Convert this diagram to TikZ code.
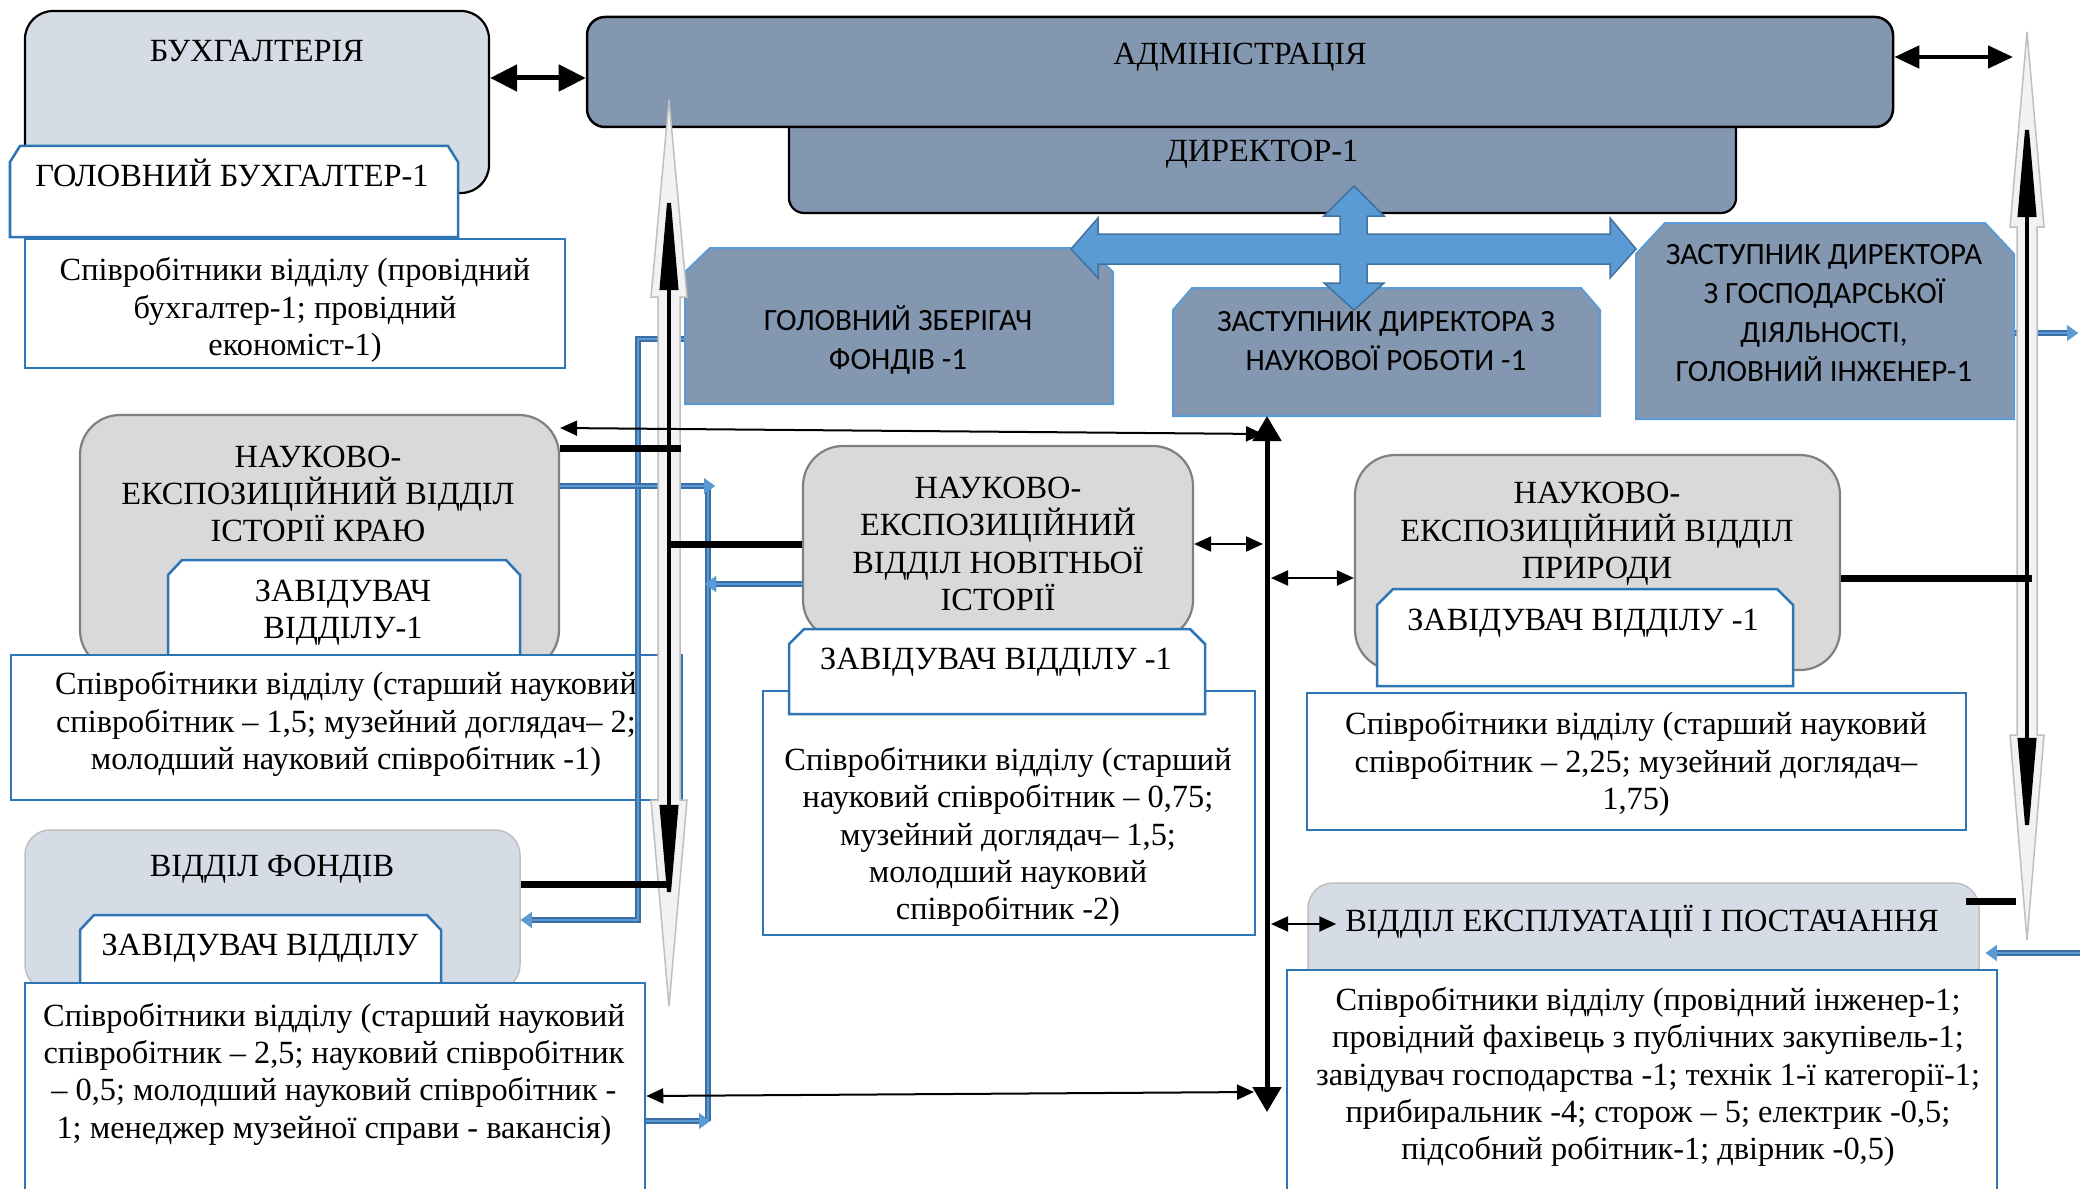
\documentclass[tikz,border=0pt]{standalone}
\usepackage{fontspec}
\setmainfont{Liberation Serif}
\newfontfamily\calib{Carlito}
\usetikzlibrary{arrows.meta,fit,calc}
\definecolor{slate}{HTML}{8497B0}
\definecolor{paleblue}{HTML}{D6DCE5}
\definecolor{grayfill}{HTML}{D9D9D9}
\definecolor{grayline}{HTML}{808080}
\definecolor{boxblue}{HTML}{2E75B6}
\definecolor{lightblue}{HTML}{5B9BD5}
\definecolor{crossedge}{HTML}{41719C}
\definecolor{conndark}{HTML}{3A6EA5}
\definecolor{outfill}{HTML}{F2F2F2}
\definecolor{outedge}{HTML}{BFBFBF}
\newcommand\snippath[7]{\path[#1] (#2,#5) -- (#2,{#3+#7}) -- ({#2+#6},#3) -- ({#4-#6},#3) -- (#4,{#3+#7}) -- (#4,#5) -- cycle;}
\begin{document}
\begin{tikzpicture}[x=0.01cm,y=-0.01cm,
  tm/.style={font=\fontsize{9.2}{10.6}\selectfont, align=center, inner sep=0pt},
  cb/.style={font=\calib\fontsize{8.8}{10.9}\selectfont, align=center, inner sep=0pt},
  area/.style={inner sep=0pt, fit={#1}},
  slatebox/.style={fill=slate, draw=black, line width=0.025cm, inner sep=0pt},
  palebox/.style={fill=paleblue, draw=black, line width=0.022cm, inner sep=0pt},
  graybox/.style={fill=grayfill, draw=grayline, line width=0.022cm, inner sep=0pt, rounded corners=0.4cm},
  fondbox/.style={fill=paleblue, draw=outedge, line width=0.015cm, inner sep=0pt, rounded corners=0.25cm},
  whitebox/.style={fill=white, draw=boxblue, line width=0.025cm, inner sep=0pt},
  deputy/.style={fill=slate, draw=lightblue, line width=0.02cm},
  snipwhite/.style={fill=white, draw=boxblue, line width=0.025cm},
  crossarr/.style={fill=lightblue, draw=crossedge, line width=0.015cm},
  outarr/.style={fill=outfill, draw=outedge, line width=0.015cm},
  barline/.style={line width=0.07cm, black},
  thinarr/.style={line width=0.02cm, {Triangle[length=0.17cm,width=0.15cm]}-{Triangle[length=0.17cm,width=0.15cm]}},
  thickarr/.style={line width=0.05cm, {Triangle[length=0.27cm,width=0.26cm]}-{Triangle[length=0.27cm,width=0.26cm]}},
  admarr/.style={line width=0.045cm, {Triangle[length=0.25cm,width=0.22cm]}-{Triangle[length=0.25cm,width=0.22cm]}},
  centarr/.style={line width=0.05cm, {Triangle[length=0.25cm,width=0.28cm]}-{Triangle[length=0.25cm,width=0.28cm]}},
  longarr/.style={line width=0.04cm, {Triangle[length=1.12cm,width=0.18cm]}-{Triangle[length=1.12cm,width=0.18cm]}},
  blueline/.style={draw=conndark, line width=0.055cm, postaction={draw=lightblue, line width=0.022cm}},
  bluearr/.style={blueline, -{Triangle[length=0.11cm,width=0.15cm]}},
]
\path[use as bounding box] (0,0) rectangle (2080,1188);
\clip (0,0) rectangle (2080,1188);

% ---------- top administration ----------
\node[slatebox, line width=0.022cm, rounded corners=0.15cm, fit={(789,90)(1736,213)}] (dir) {};
\node[slatebox, rounded corners=0.18cm, fit={(587,17)(1893,127)}] (admin) {};
\node[tm] (tadmin) at (1240,57) {АДМІНІСТРАЦІЯ};
\node[tm] (tdir) at (1262,154) {ДИРЕКТОР-1};

% ---------- accounting ----------
\node[palebox, rounded corners=0.28cm, fit={(25,11)(489,193)}] (bukh) {};
\node[tm] (tbukh) at (257,51) {БУХГАЛТЕРІЯ};
\node[area={(10,146)(458,237)}] (gbukh) {};
\snippath{snipwhite}{10}{146}{458}{237}{10}{16}
\node[tm] (tgbukh) at (232,173) {ГОЛОВНИЙ БУХГАЛТЕР-1};
\node[whitebox, fit={(25,239)(565,368)}] (bukhstaff) {};
\node[tm] (tbukhstaff) at (295,310) {Співробітники відділу (провідний\\бухгалтер-1; провідний\\економіст-1)};

% ---------- deputies ----------
\node[area={(685,248)(1113,404)}] (zber) {};
\snippath{deputy}{685}{248}{1113}{404}{25}{24}
\node[cb] (tzber) at (898,340) {ГОЛОВНИЙ ЗБЕРІГАЧ\\ФОНДІВ -1};
\node[area={(1173,288)(1600,416)}] (zastn) {};
\snippath{deputy}{1173}{288}{1600}{416}{19}{22}
\node[cb] (tzastn) at (1386,341) {ЗАСТУПНИК ДИРЕКТОРА З\\НАУКОВОЇ РОБОТИ -1};
\node[area={(1636,223)(2014,419)}] (zastg) {};
\snippath{deputy}{1636}{223}{2014}{419}{29}{31}
\node[cb, font=\calib\fontsize{8.8}{11.1}\selectfont] (tzastg) at (1824,313) {ЗАСТУПНИК ДИРЕКТОРА\\З ГОСПОДАРСЬКОЇ\\ДІЯЛЬНОСТІ,\\ГОЛОВНИЙ ІНЖЕНЕР-1};

% ---------- cross arrow ----------
\coordinate (cross) at (1354,249);
\path[crossarr] (1071,249) -- (1098,218) -- (1098,234) -- (1340,234) -- (1340,216) -- (1324,216) -- (1354,186) -- (1384,216) -- (1367,216) -- (1367,234) -- (1610,234) -- (1610,218) -- (1636,249) -- (1610,278) -- (1610,264) -- (1367,264) -- (1367,283) -- (1384,283) -- (1354,310) -- (1324,283) -- (1340,283) -- (1340,264) -- (1098,264) -- (1098,278) -- cycle;

% ---------- history of the region ----------
\node[graybox, fit={(80,415)(559,670)}] (kray) {};
\node[tm] (tkray) at (318,494) {НАУКОВО-\\ЕКСПОЗИЦІЙНИЙ ВІДДІЛ\\ІСТОРІЇ КРАЮ};
\node[area={(168,560)(520,662)}] (krayzav) {};
\snippath{snipwhite}{168}{560}{520}{662}{14}{15}
\node[tm] (tkrayzav) at (343,613) {ЗАВІДУВАЧ\\ВІДДІЛУ-1};
\node[whitebox, fit={(11,655)(682,800)}] (kraystaff) {};
\node[tm] (tkraystaff) at (346,724) {Співробітники відділу (старший науковий\\співробітник – 1,5; музейний доглядач– 2;\\молодший науковий співробітник -1)};

% ---------- modern history ----------
\node[graybox, fit={(803,446)(1193,640)}] (nov) {};
\node[tm] (tnov) at (998,544) {НАУКОВО-\\ЕКСПОЗИЦІЙНИЙ\\ВІДДІЛ НОВІТНЬОЇ\\ІСТОРІЇ};
\node[whitebox, fit={(763,691)(1255,935)}] (novstaff) {};
\node[tm] (tnovstaff) at (1008,837) {Співробітники відділу (старший\\науковий співробітник – 0,75;\\музейний доглядач– 1,5;\\молодший науковий\\співробітник -2)};
\node[area={(789,629)(1205,714)}] (novzav) {};
\snippath{snipwhite}{789}{629}{1205}{714}{15}{15}
\node[tm] (tnovzav) at (996,662) {ЗАВІДУВАЧ ВІДДІЛУ -1};

% ---------- nature ----------
\node[graybox, fit={(1355,455)(1840,670)}] (pryr) {};
\node[tm] (tpryr) at (1597,534) {НАУКОВО-\\ЕКСПОЗИЦІЙНИЙ ВІДДІЛ\\ПРИРОДИ};
\node[area={(1377,589)(1793,686)}] (pryrzav) {};
\snippath{snipwhite}{1377}{589}{1793}{686}{16}{16}
\node[tm] (tpryrzav) at (1583,623) {ЗАВІДУВАЧ ВІДДІЛУ -1};
\node[whitebox, fit={(1307,693)(1966,830)}] (pryrstaff) {};
\node[tm] (tpryrstaff) at (1636,764) {Співробітники відділу (старший науковий\\співробітник – 2,25; музейний доглядач–\\1,75)};

% ---------- funds ----------
\node[fondbox, fit={(25,830)(520,990)}] (fond) {};
\node[tm] (tfond) at (272,869) {ВІДДІЛ ФОНДІВ};
\node[area={(80,915)(441,990)}] (fondzav) {};
\snippath{snipwhite}{80}{915}{441}{990}{14}{15}
\node[tm] (tfondzav) at (260,948) {ЗАВІДУВАЧ ВІДДІЛУ};
\node[whitebox, fit={(25,983)(645,1210)}] (fondstaff) {};
\node[tm] (tfondstaff) at (334,1074) {Співробітники відділу (старший науковий\\співробітник – 2,5; науковий співробітник\\– 0,5; молодший науковий співробітник -\\1; менеджер музейної справи - вакансія)};

% ---------- maintenance ----------
\node[fondbox, fit={(1308,883)(1979,1000)}] (expl) {};
\node[tm] (texpl) at (1642,922) {ВІДДІЛ ЕКСПЛУАТАЦІЇ І ПОСТАЧАННЯ};
\node[whitebox, fit={(1287,970)(1997,1210)}] (explstaff) {};
\node[tm] (texplstaff) at (1648,1077) {Співробітники відділу (провідний інженер-1;\\провідний фахівець з публічних закупівель-1;\\завідувач господарства -1; технік 1-ї категорії-1;\\прибиральник -4; сторож – 5; електрик -0,5;\\підсобний робітник-1; двірник -0,5)};

% ---------- helper coordinates ----------
\foreach \yy in {57,78,333,339,428,434,448,486,544,578,584,884,901,920,924,953,1092,1096,1121}
  {\coordinate (y\yy) at (0,\yy);}
\coordinate (bvA) at (638,0);
\coordinate (bvB) at (708,0);
\coordinate (cTop) at (1267,416);
\coordinate (cBot) at (1267,1112);
\coordinate (LTop) at (669,178);
\coordinate (LBot) at (669,917);
\coordinate (RTop) at (2027,105);
\coordinate (RBot) at (2027,850);

% ---------- blue connectors ----------
\draw[bluearr] (zber.west |- y339) -- (bvA |- y339) -- (bvA |- y920) -- (fond.east |- y920);
\draw[blueline] (bvB |- y486) -- (bvB |- y1121);
\draw[bluearr] (kray.east |- y486) -- ([xshift=0.07cm]bvB |- y486);
\draw[bluearr] (fondstaff.east |- y1121) -- ([xshift=0.02cm]bvB |- y1121);
\draw[bluearr] (nov.west |- y584) -- ([xshift=-0.03cm]bvB |- y584);
\draw[bluearr] (zastg.east |- y333) -- (2078,333);
\draw[bluearr] (2082,953) -- ([xshift=0.06cm]expl.east |- y953);

% ---------- outline double arrows ----------
\path[outarr] (669,100) -- (687,297) -- (680,297) -- (680,800) -- (687,800) -- (669,1006) -- (651,800) -- (658,800) -- (658,297) -- (651,297) -- cycle;
\path[outarr] (2027,32) -- (2044,227) -- (2037,227) -- (2037,735) -- (2044,735) -- (2027,940) -- (2010,735) -- (2017,735) -- (2017,227) -- (2010,227) -- cycle;

% ---------- black connectors ----------
\draw[barline] (kray.east |- y448) -- (681,448);
\draw[barline] (nov.west |- y544) -- (LTop |- y544);
\draw[barline] (fond.east |- y884) -- (LTop |- y884);
\draw[barline] (pryr.east |- y578) -- ([xshift=0.05cm]RTop |- y578);
\draw[barline] (1966,901) -- ([xshift=-0.11cm]RTop |- y901);
\draw[longarr] (LTop) -- (LBot);
\draw[longarr] (RTop) -- (RBot);
\draw[centarr] (cTop) -- (cBot);
\draw[thickarr] (bukh.east |- y78) -- (admin.west |- y78);
\draw[admarr] (admin.east |- y57) -- ([xshift=-0.14cm]RTop |- y57);
\draw[thinarr] (kray.east |- y428) -- ([xshift=-0.04cm]cTop |- y434);
\draw[thinarr] (nov.east |- y544) -- ([xshift=-0.04cm]cTop |- y544);
\draw[thinarr] ([xshift=0.04cm]cTop |- y578) -- (pryr.west |- y578);
\draw[thinarr] ([xshift=0.04cm]cTop |- y924) -- ([xshift=0.29cm]expl.west |- y924);
\draw[thinarr] (fondstaff.east |- y1096) -- ([xshift=-0.13cm]cTop |- y1092);
\end{tikzpicture}
\end{document}
